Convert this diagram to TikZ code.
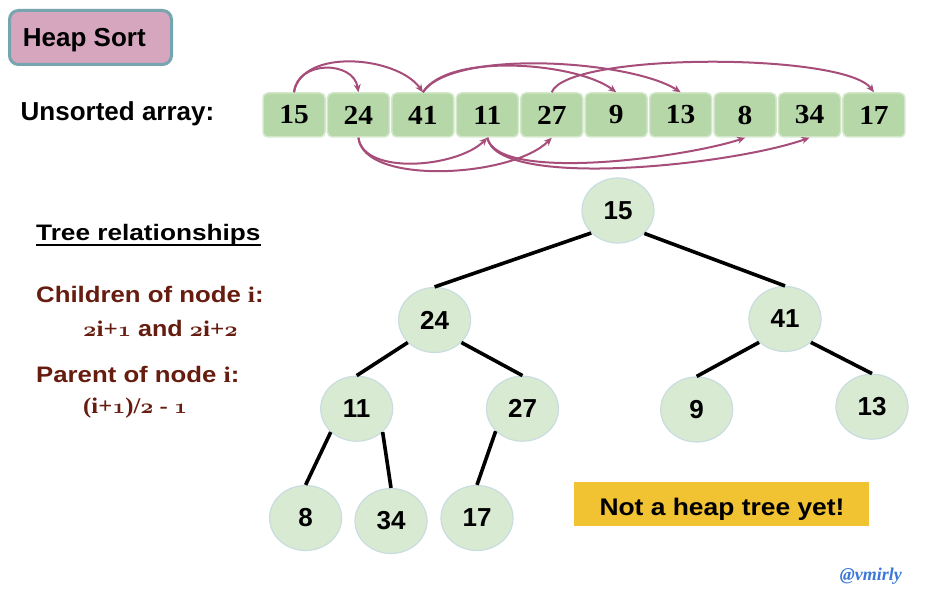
\documentclass[tikz,border=0pt]{standalone}
\usepackage{fontspec}
\setmainfont{Liberation Serif}
\setsansfont{Liberation Sans}
\usetikzlibrary{arrows.meta,shapes.geometric}
\definecolor{cellfill}{HTML}{B6D7A8}
\definecolor{cellline}{HTML}{D3E8CB}
\definecolor{treefill}{HTML}{D9EAD3}
\definecolor{treeline}{HTML}{C9DDE0}
\definecolor{arccol}{HTML}{A64D79}
\definecolor{pinkbox}{HTML}{D5A6BD}
\definecolor{tealline}{HTML}{76A5AF}
\definecolor{darkred}{HTML}{661C0E}
\definecolor{goldbox}{HTML}{F1C232}
\definecolor{sigblue}{HTML}{3C78D8}
\newcommand{\stretchx}[2]{\scalebox{#1}[1]{#2}}
\newcommand{\osnum}[1]{{\boldmath$\mathnormal{#1}$}}
\tikzset{
  cell/.style={rectangle, rounded corners=5pt, fill=cellfill, draw=cellline, line width=1.5pt,
    minimum width=62pt, minimum height=44pt, inner sep=0pt,
    font=\fontsize{27.5}{30}\selectfont\rmfamily\bfseries},
  tn/.style={ellipse, fill=treefill, draw=treeline, line width=1.2pt,
    minimum width=72pt, minimum height=65pt, inner sep=0pt,
    font=\fontsize{26}{28}\selectfont\sffamily\bfseries},
  edge/.style={line width=3.6pt, black},
  arr/.style={arccol, line width=2pt, -{Stealth[length=8pt,width=7pt]}},
  lbl/.style={anchor=base west, inner sep=0pt, font=\fontsize{26}{30}\selectfont\sffamily\bfseries},
  rel/.style={anchor=base west, inner sep=0pt, text=darkred, font=\fontsize{22.4}{26}\selectfont\sffamily\bfseries}
}
\begin{document}
\begin{tikzpicture}[x=1pt,y=-1pt]
\fill[white] (0,0) rectangle (940,609);
\useasboundingbox (0,0) rectangle (940,609);

% title box
\node[rectangle, rounded corners=9pt, fill=pinkbox, draw=tealline, line width=3pt,
  minimum width=162pt, minimum height=54pt, inner sep=0pt] (hs) at (90.5,37.5) {};
\node[lbl] (hstext) at (22.7,46.7) {Heap Sort};

\node[lbl] (unsorted) at (20.5,120.7) {Unsorted array:};

% array cells
\foreach \v [count=\i from 0] in {15,24,41,11,27,9,13,8,34,17}
  \node[cell] (c\i) at (294+64.44*\i,115) {\stretchx{1.07}{\v}};

% top arcs
\draw[arr] (c0.north) .. controls +(3,-32) and +(-5,-32) .. (c1.north);
\draw[arr] (c0.north) .. controls +(8,-45) and +(-25,-36) .. (c2.north);
\draw[arr] (c2.north) .. controls +(25,-40) and +(-40,-30) .. (c5.north);
\draw[arr] (c2.north) .. controls +(30,-44) and +(-50,-32) .. (c6.north);
\draw[arr] (c4.north) .. controls +(15,-40) and +(-30,-40) .. (c9.north);
% bottom arcs
\draw[arr] (c1.south) .. controls +(5,38) and +(-30,30) .. (c3.south);
\draw[arr] (c1.south) .. controls +(5,48) and +(-40,40) .. (c4.south);
\draw[arr] (c3.south) .. controls +(10,45) and +(-60,20) .. (c7.south);
\draw[arr] (c3.south) .. controls +(10,52) and +(-80,28) .. (c8.south);

% left texts
\node[anchor=base west, inner sep=0pt, font=\fontsize{22.4}{26}\selectfont\sffamily\bfseries] (tr) at (36,240.7)
  {\stretchx{1.17}{Tree relationships}};
\draw[line width=2.2pt] ([yshift=-4.2pt]tr.base west) -- ([yshift=-4.2pt]tr.base east);
\node[rel] (ch) at (36,303) {\stretchx{1.15}{Children of node {\rmfamily i}:}};
\node[rel] (chf) at (83,336.7) {\stretchx{1.12}{{\rmfamily\osnum{2}i+\osnum{1}} and {\rmfamily\osnum{2}i+\osnum{2}}}};
\node[rel] (pa) at (36,383) {\stretchx{1.15}{Parent of node {\rmfamily i}:}};
\node[rel] (paf) at (83,414) {\stretchx{1.1}{\rmfamily (i+\osnum{1})/\osnum{2} - \osnum{1}}};

% tree
\node[tn] (t15) at (618,210.5) {15};
\node[tn] (t24) at (434.6,320) {24};
\node[tn] (t41) at (785,319) {41};
\node[tn] (t11) at (356.7,408.7) {11};
\node[tn] (t27) at (522.5,408.7) {27};
\node[tn] (t9) at (696.7,409.5) {9};
\node[tn] (t13) at (872,406.7) {13};
\node[tn] (t8) at (305.6,518) {8};
\node[tn] (t34) at (391,521) {34};
\node[tn] (t17) at (477,518) {17};

\draw[edge] (t15.220) -- (t24.north);
\draw[edge] (t15.319) -- (t41.north);
\draw[edge] (t24.220) -- (t11.north);
\draw[edge] (t24.320) -- (t27.north);
\draw[edge] (t41.222) -- (t9.north);
\draw[edge] (t41.318) -- (t13.north);
\draw[edge] (t11.222) -- (t8.north);
\draw[edge] (t11.318) -- (t34.north);
\draw[edge] (t27.220) -- (t17.north);

% note box
\node[rectangle, fill=goldbox, minimum width=295pt, minimum height=44pt, inner sep=0pt] (nh) at (721.5,504) {};
\node[anchor=base, inner sep=0pt, font=\fontsize{24}{28}\selectfont\sffamily\bfseries] (nhtext) at (722,515)
  {\stretchx{1.1}{Not a heap tree yet!}};

% signature
\node[anchor=base east, inner sep=0pt, text=sigblue, font=\fontsize{18}{20}\selectfont\rmfamily\bfseries\itshape] (sig) at (902,580) {@vmirly};
\end{tikzpicture}
\end{document}
